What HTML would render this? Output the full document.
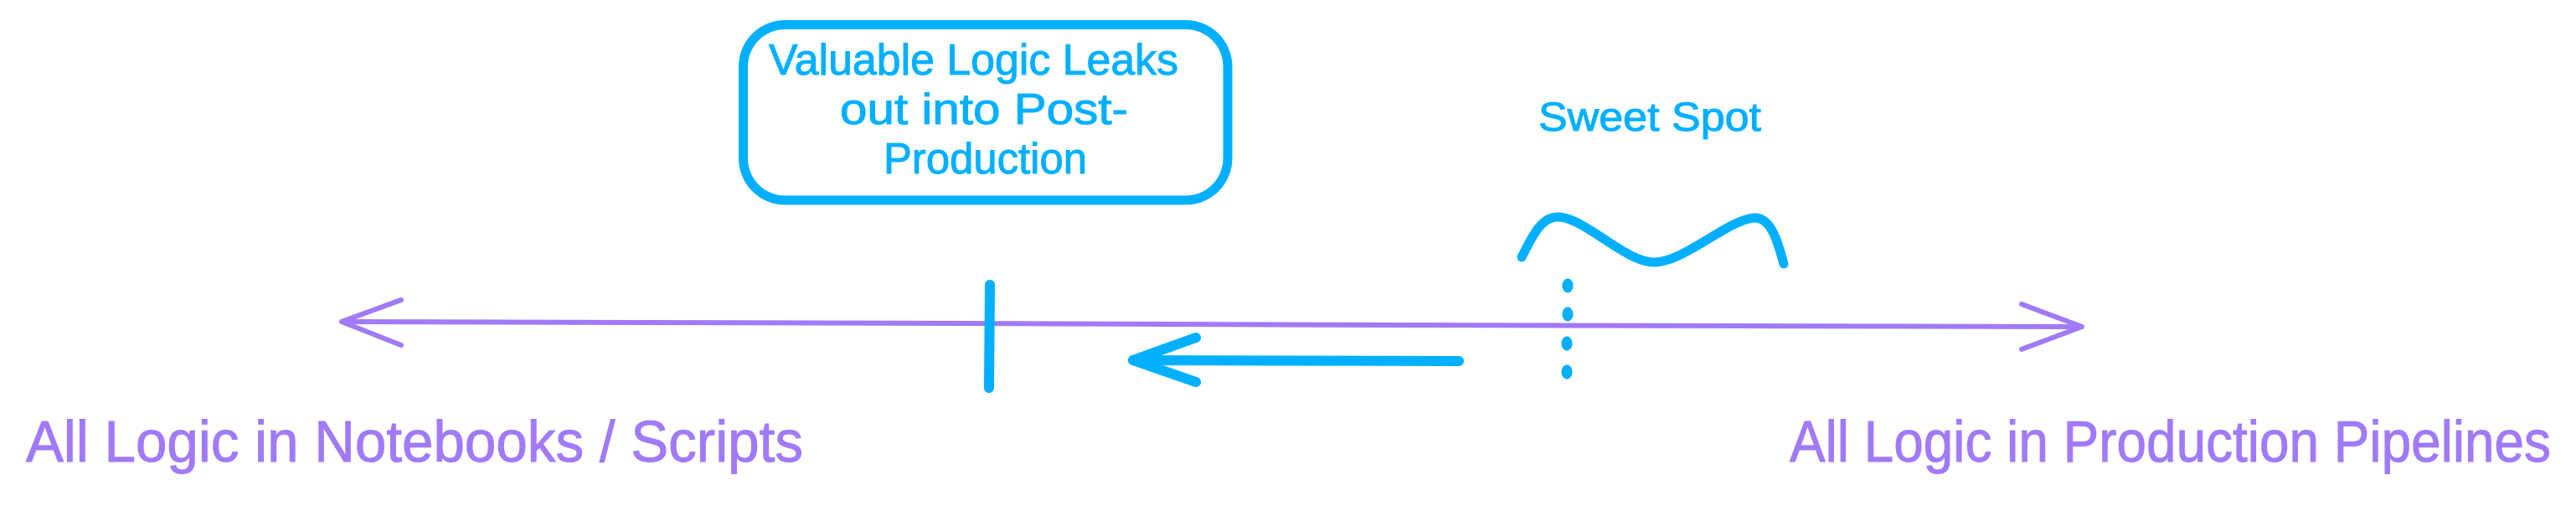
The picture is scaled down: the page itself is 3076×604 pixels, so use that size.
<!DOCTYPE html>
<html>
<head>
<meta charset="utf-8">
<style>
  html, body { margin: 0; padding: 0; background: #ffffff; }
  body { width: 3076px; height: 604px; overflow: hidden; }
  svg { display: block; }
  text { font-family: "Liberation Sans", "DejaVu Sans", sans-serif; }
</style>
</head>
<body>
<svg width="3076" height="604" viewBox="0 0 3076 604" xmlns="http://www.w3.org/2000/svg">
  <rect x="0" y="0" width="3076" height="604" fill="#ffffff"/>

  <!-- Main purple axis line with arrowheads -->
  <g stroke="#a07af9" stroke-width="6" stroke-linecap="round" stroke-linejoin="round" fill="none">
    <path d="M408,384 L1150,386 L1650,388 L2486,390"/>
    <path d="M479,358 L408,384 L479,412"/>
    <path d="M2414,363 L2486,390 L2414,417"/>
  </g>

  <!-- Box -->
  <rect x="887.5" y="29.5" width="578.5" height="209.5" rx="50" ry="50" fill="none" stroke="#00b0ff" stroke-width="11"/>
  <g fill="#00b0ff" stroke="#00b0ff" stroke-width="1" font-size="52">
    <text x="918" y="89" textLength="489" lengthAdjust="spacingAndGlyphs">Valuable Logic Leaks</text>
    <text x="1003" y="148" textLength="344" lengthAdjust="spacingAndGlyphs">out into Post-</text>
    <text x="1055" y="207" textLength="243" lengthAdjust="spacingAndGlyphs">Production</text>
  </g>

  <!-- Sweet Spot -->
  <text x="1837" y="156" fill="#00b0ff" stroke="#00b0ff" stroke-width="1" font-size="48" textLength="266" lengthAdjust="spacingAndGlyphs">Sweet Spot</text>
  <path d="M1817,307 C1830,282 1840,259 1860,259 C1892,259 1940,313 1975,313 C2012,313 2065,260 2097,260 C2116,262 2123,290 2130,315"
        fill="none" stroke="#00b0ff" stroke-width="11" stroke-linecap="round" stroke-linejoin="round"/>

  <!-- dotted line -->
  <g fill="#00b0ff">
    <ellipse cx="1872" cy="341" rx="6.5" ry="8.5"/>
    <ellipse cx="1872" cy="375" rx="6.5" ry="8.5"/>
    <ellipse cx="1871" cy="410" rx="6.5" ry="8.5"/>
    <ellipse cx="1871" cy="444" rx="6.5" ry="8.5"/>
  </g>

  <!-- Blue tick -->
  <path d="M1182,340 L1181,463" stroke="#00b0ff" stroke-width="12" stroke-linecap="round" fill="none"/>

  <!-- Blue arrow -->
  <g stroke="#00b0ff" stroke-width="12" stroke-linecap="round" stroke-linejoin="round" fill="none">
    <path d="M1742,431 L1353,430"/>
    <path d="M1428,403 L1353,430 L1428,456"/>
  </g>

  <!-- Bottom labels -->
  <g fill="#a07af9" stroke="#a07af9" stroke-width="1" font-size="70">
    <text x="31" y="551" textLength="928" lengthAdjust="spacingAndGlyphs">All Logic in Notebooks / Scripts</text>
    <text x="2137" y="551" textLength="909" lengthAdjust="spacingAndGlyphs">All Logic in Production Pipelines</text>
  </g>
</svg>
</body>
</html>
